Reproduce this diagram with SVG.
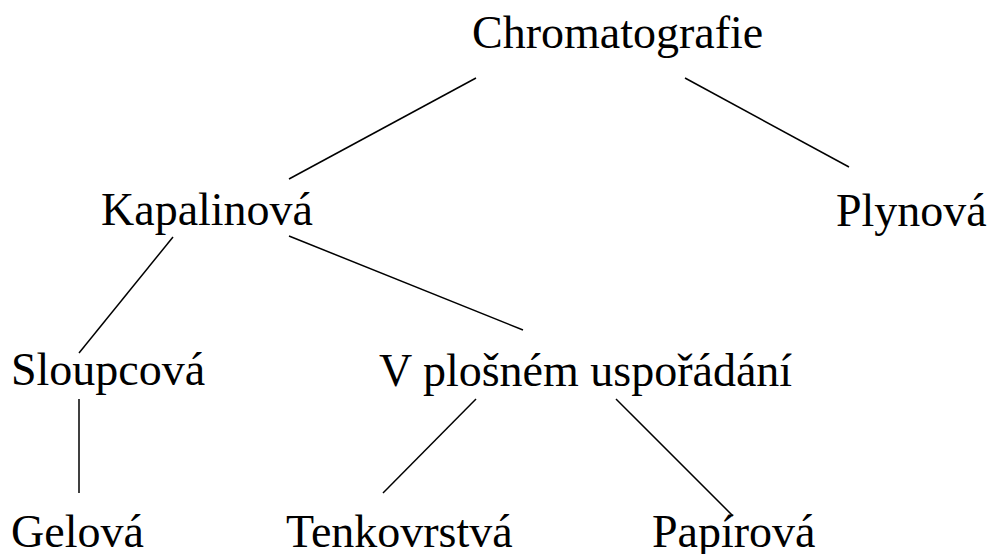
<svg xmlns="http://www.w3.org/2000/svg" width="991" height="554" viewBox="0 0 991 554">
<defs>
<style>
.t{font-family:'Liberation Serif','Times New Roman',serif;font-size:46px;fill:#000}
.c line{stroke:#000;stroke-width:1.5;fill:none}
</style>
</defs>
<rect width="991" height="554" fill="#fff"/>
<g class="c" id="connectors">
<line x1="476" y1="78" x2="289" y2="179"/>
<line x1="685" y1="78" x2="849" y2="167"/>
<line x1="173" y1="237" x2="79" y2="353"/>
<line x1="289" y1="236" x2="523" y2="330"/>
<line x1="79" y1="399" x2="79" y2="493"/>
<line x1="476" y1="399" x2="383" y2="493"/>
<line x1="616" y1="399" x2="733" y2="516"/>
</g>
<g id="chromatografie"><text class="t" x="472" y="48">Chromatografie</text></g>
<g id="kapalinova"><text class="t" x="101" y="225">Kapalinová</text></g>
<g id="plynova"><text class="t" x="836" y="226">Plynová</text></g>
<g id="sloupcova"><text class="t" x="11" y="385">Sloupcová</text></g>
<g id="plosne"><text class="t" x="379" y="386">V plošném uspořádání</text></g>
<g id="gelova"><text class="t" x="11" y="547">Gelová</text></g>
<g id="tenkovrstva"><text class="t" x="286" y="547">Tenkovrstvá</text></g>
<g id="papirova"><text class="t" x="652" y="547">Papírová</text></g>
</svg>
